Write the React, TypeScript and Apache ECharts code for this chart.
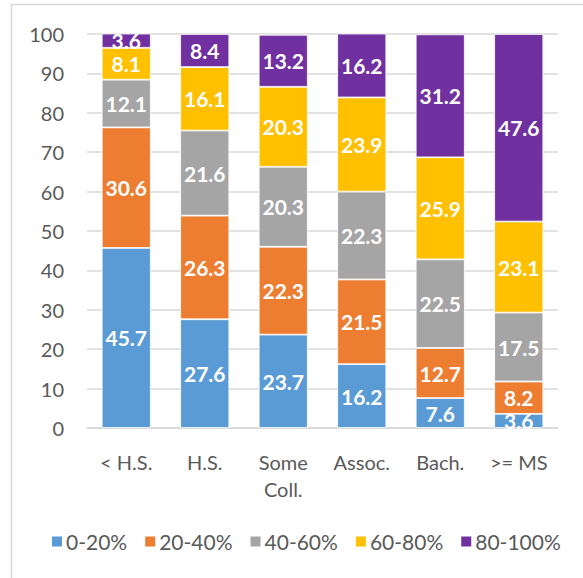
import React, { useEffect, useRef } from "react";
import * as echarts from "echarts";

const categories = ["< H.S.", "H.S.", "Some\nColl.", "Assoc.", "Bach.", ">= MS"];
const seriesNames = ["0-20%", "20-40%", "40-60%", "60-80%", "80-100%"];
const s0_20 = [45.7, 27.6, 23.7, 16.2, 7.6, 3.6];
const s20_40 = [30.6, 26.3, 22.3, 21.5, 12.7, 8.2];
const s40_60 = [12.1, 21.6, 20.3, 22.3, 22.5, 17.5];
const s60_80 = [8.1, 16.1, 20.3, 23.9, 25.9, 23.1];
const s80_100 = [3.6, 8.4, 13.2, 16.2, 31.2, 47.6];
const colors = ["#5B9BD5", "#ED7D31", "#A5A5A5", "#FFC000", "#7030A0"];

const FONT = "Lato";

export default function App() {
  const ref = useRef<HTMLDivElement>(null);
  useEffect(() => {
    if (!ref.current) return;
    const chart = echarts.init(ref.current, null, { renderer: "svg" });
    const data = [s0_20, s20_40, s40_60, s60_80, s80_100];
    chart.setOption({
      animation: false,
      textStyle: { fontFamily: FONT },
      color: colors,
      graphic: [
        {
          type: "rect",
          shape: { x: 11.5, y: 4.5, width: 620, height: 620 },
          style: { fill: "none", stroke: "#D9D9D9", lineWidth: 1.5 },
          silent: true,
          z: -10,
        },
      ],
      grid: { left: 87, right: 25, top: 34, bottom: 150 },
      legend: {
        bottom: 21,
        left: 45,
        itemWidth: 12,
        itemHeight: 12,
        itemGap: 16,
        icon: "rect",
        textStyle: { fontSize: 21, color: "#595959", fontFamily: FONT, padding: [0, 0, 0, -2] },
        data: seriesNames,
      },
      xAxis: {
        type: "category",
        data: categories,
        axisTick: { show: false },
        axisLine: { lineStyle: { color: "#D9D9D9", width: 1.5 } },
        axisLabel: { fontSize: 20, color: "#595959", margin: 20, lineHeight: 27, fontFamily: FONT },
      },
      yAxis: {
        type: "value",
        min: 0,
        max: 100,
        interval: 10,
        axisLabel: { fontSize: 20, color: "#595959", margin: 23, fontFamily: FONT },
        splitLine: { lineStyle: { color: "#D9D9D9", width: 1.5 } },
        axisLine: { show: false },
        axisTick: { show: false },
      },
      series: seriesNames.map((name, i) => ({
        name,
        type: "bar",
        stack: "total",
        data: data[i],
        barCategoryGap: "37.5%",
        itemStyle: { color: colors[i], borderColor: "#FFFFFF", borderWidth: 0.8 },
        label: {
          show: true,
          position: "inside",
          color: "#FFFFFF",
          fontWeight: "bold",
          fontSize: 21,
          fontFamily: FONT,
          formatter: (p: any) => p.value.toFixed(1),
        },
      })),
    });
    return () => chart.dispose();
  }, []);
  return (
    <div
      ref={ref}
      style={{ position: "absolute", left: 0, top: 0, width: 583, height: 578, background: "#fff" }}
    />
  );
}
